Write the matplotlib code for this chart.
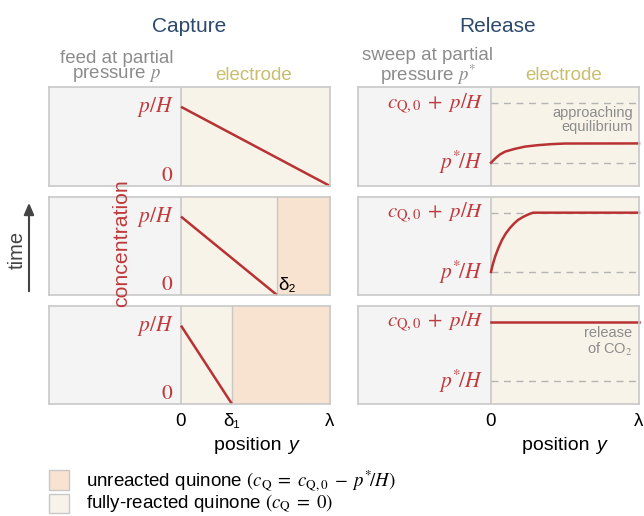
import matplotlib.pyplot as plt

# values are fractions of panel height (y) and of electrode thickness (x)
capture_rows = ["top", "middle", "bottom"]
capture_pH = 0.8
capture_front = [1.0, 0.644, 0.342]          # reaction front position in each row
capture_front_labels = [None, "δ₂", None]

release_c_level = 0.84                        # c_Q,0 + p/H
release_p_level = 0.235                       # p*/H
release_curve_x = [
    [0, 0.01, 0.03, 0.06, 0.095, 0.16, 0.23, 0.32, 0.41, 0.5, 1.0],
    [0, 0.01, 0.027, 0.05, 0.074, 0.10, 0.128, 0.155, 0.182, 0.215, 0.243, 0.265, 0.284, 1.0],
    [0, 1.0],
]
release_curve_y = [
    [0.235, 0.25, 0.28, 0.318, 0.347, 0.375, 0.398, 0.413, 0.423, 0.429, 0.43],
    [0.235, 0.30, 0.388, 0.48, 0.561, 0.628, 0.684, 0.728, 0.765, 0.795, 0.816, 0.83, 0.84, 0.84],
    [0.84, 0.84],
]
release_dashed = [["c", "p"], ["c", "p"], ["p"]]

W, H = 644, 516
plt.rcParams["font.family"] = ["Liberation Sans", "DejaVu Sans"]
plt.rcParams["mathtext.fontset"] = "stix"

RED = "#b83234"
RED_TXT = "#c0393b"
GRAY_TXT = "#8c8c8c"
NAVY = "#2d4a6e"
OLIVE = "#c9bd6e"
FEED = "#f4f4f4"
CREAM = "#f8f3e9"
PEACH = "#f8e3d1"
EDGE = "#c8c8c8"

fig = plt.figure(figsize=(W / 100, H / 100), dpi=100)


def px(x, y):
    return x / W, 1 - y / H


def panel(x0, x1, xdiv, y0, y1):
    ax = fig.add_axes([x0 / W, 1 - y1 / H, (x1 - x0) / W, (y1 - y0) / H])
    ax.set_xlim(-(xdiv - x0) / (x1 - xdiv), 1)
    ax.set_ylim(0, 1)
    ax.set_xticks([])
    ax.set_yticks([])
    for s in ax.spines.values():
        s.set_color(EDGE)
        s.set_linewidth(1.2)
    ax.axvspan(-5, 0, color=FEED, lw=0)
    ax.axvspan(0, 1, color=CREAM, lw=0)
    ax.axvline(0, color=EDGE, lw=1.2)
    return ax


rows_px = [(87, 186), (197, 295), (306, 404)]

# capture side
for i, (y0, y1) in enumerate(rows_px):
    ax = panel(49, 330, 181, y0, y1)
    d = capture_front[i]
    if d < 1:
        ax.axvspan(d, 1, color=PEACH, lw=0)
        ax.axvline(d, color=EDGE, lw=1.0)
    ax.plot([0, d], [capture_pH, 0], color=RED, lw=1.8, solid_capstyle="butt", clip_on=False)
    ax.text(-0.05, capture_pH, "$p/H$", color=RED_TXT, fontsize=15.5, ha="right", va="center")
    ax.text(-0.05, 0.11, "$0$", color=RED_TXT, fontsize=15.5, ha="right", va="center")
    if capture_front_labels[i]:
        ax.text(d + 0.01, 0.1, capture_front_labels[i], fontsize=13.5, ha="left", va="center")

# release side
for i, (y0, y1) in enumerate(rows_px):
    ax = panel(358, 639, 491, y0, y1)
    for key in release_dashed[i]:
        lvl = release_c_level if key == "c" else release_p_level
        ax.plot([0, 1], [lvl, lvl], color="#b4b4b4", lw=1.0, dashes=(5, 4))
    ax.plot(release_curve_x[i], release_curve_y[i], color=RED, lw=1.8, clip_on=False)
    ax.text(-0.05, release_c_level, r"$c_{\mathrm{Q,0}}\; +\; p/H$", color=RED_TXT,
            fontsize=15, ha="right", va="center")
    ax.text(-0.05, release_p_level, r"$p^{*}\!/H$", color=RED_TXT, fontsize=15.5,
            ha="right", va="center")

fig.text(*px(633, 120), "approaching\nequilibrium", color=GRAY_TXT, fontsize=10.5,
         ha="right", va="center", linespacing=1.0)
fig.text(*px(632, 342), "release\nof CO$_2$", color=GRAY_TXT, fontsize=10.5,
         ha="right", va="center", linespacing=1.0)

# titles and headers
fig.text(*px(189, 26), "Capture", color=NAVY, fontsize=15, ha="center", va="center")
fig.text(*px(498, 26), "Release", color=NAVY, fontsize=15, ha="center", va="center")
fig.text(*px(117, 67), "feed at partial\npressure $p$", color=GRAY_TXT, fontsize=13.5,
         ha="center", va="center", linespacing=0.9)
fig.text(*px(254, 75), "electrode", color=OLIVE, fontsize=13.5, ha="center", va="center")
fig.text(*px(428, 67), "sweep at partial\npressure $p^{*}$", color=GRAY_TXT, fontsize=13.5,
         ha="center", va="center", linespacing=0.9)
fig.text(*px(564, 75), "electrode", color=OLIVE, fontsize=13.5, ha="center", va="center")

# side labels
fig.text(*px(122, 243), "concentration", color=RED_TXT, fontsize=15.3, rotation=90,
         ha="center", va="center")
fig.text(*px(17, 250), "time", color="#444444", fontsize=14.5, rotation=90,
         ha="center", va="center")
fig.add_artist(plt.Annotation("", xy=px(29, 200), xytext=px(29, 294),
                              xycoords="figure fraction", textcoords="figure fraction",
                              arrowprops=dict(arrowstyle="-|>,head_length=0.7,head_width=0.3",
                                              color="#444444", lw=1.5)))

# position axes labels
for x, lab in [(181, "0"), (232, "δ₁"), (330, "λ"), (491, "0"), (639, "λ")]:
    fig.text(*px(x, 421), lab, fontsize=13.5, ha="center", va="center")
for xc in (255, 563):
    fig.text(*px(xc - 5, 445), "position ", fontsize=14, ha="center", va="center")
    fig.text(*px(xc + 38, 445), "y", fontsize=14, style="italic", ha="center", va="center")

# legend
for y0, y1, col, lab in [
    (470, 490, PEACH, r"unreacted quinone $(c_{\mathrm{Q}}\; =\; c_{\mathrm{Q,0}}\; -\; p^{*}\!/H)$"),
    (494, 513, CREAM, r"fully-reacted quinone $(c_{\mathrm{Q}}\; =\; 0)$"),
]:
    fig.add_artist(plt.Rectangle(px(49, y1), 20 / W, (y1 - y0) / H, transform=fig.transFigure,
                                 facecolor=col, edgecolor=EDGE, lw=1.0))
    fig.text(*px(86, (y0 + y1) / 2), lab, fontsize=13.5, ha="left", va="center")

fig.savefig("out.png", dpi=100)
